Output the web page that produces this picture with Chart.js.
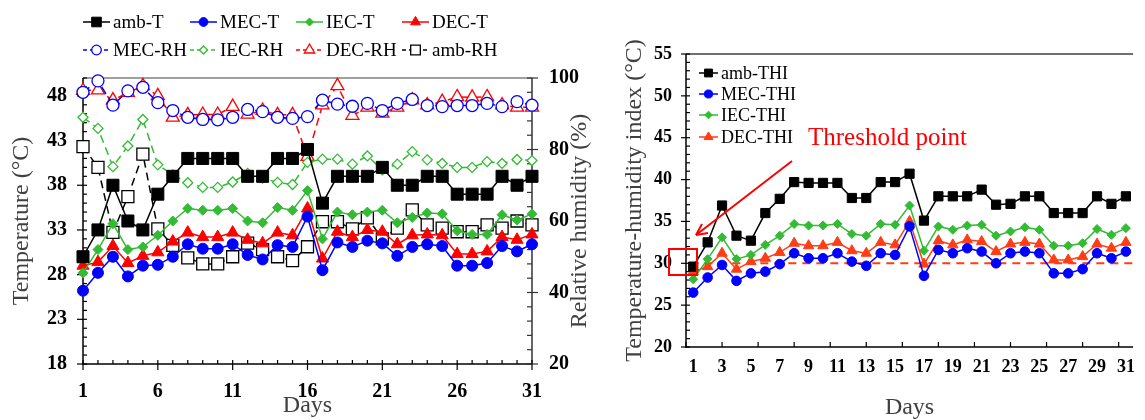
<!DOCTYPE html>
<html>
<head>
<meta charset="utf-8">
<script src="https://cdn.jsdelivr.net/npm/chart.js@4.4.1/dist/chart.umd.min.js"></script>
<style>
  html, body { margin: 0; padding: 0; background: #fff; overflow: hidden; }
  #boxLeft { position: absolute; left: 0; top: 0; }
  #boxRight { position: absolute; left: 600px; top: 0; }
</style>
</head>
<body>
<div id="boxLeft"><canvas id="tempChart" width="600" height="420"></canvas></div>
<div id="boxRight"><canvas id="thiChart" width="545" height="420"></canvas></div>
<script>
// === Data
const days = [1,2,3,4,5,6,7,8,9,10,11,12,13,14,15,16,17,18,19,20,21,22,23,24,25,26,27,28,29,30,31];

const ambT  = [30,33,38,34,33,37,39,41,41,41,41,39,39,41,41,42,36,39,39,39,40,38,38,39,39,37,37,37,39,38,39];
const mecT  = [26.2,28.2,30.0,27.8,29.0,29.1,30.0,31.4,30.9,30.9,31.4,30.2,29.7,31.3,31.1,34.5,28.5,31.6,31.1,31.8,31.5,30.1,31.1,31.4,31.2,29.0,29.0,29.3,31.2,30.6,31.4];
const iecT  = [28.2,30.8,33.7,30.8,31.1,32.4,34.0,35.4,35.2,35.2,35.4,34.0,33.8,35.5,35.2,37.4,32.0,35.0,34.7,35.0,35.2,33.8,34.4,34.9,34.8,32.9,32.5,32.5,34.7,34.1,34.8];
const decT  = [29.0,29.4,31.2,29.3,30.1,30.5,31.7,32.7,32.2,32.2,32.7,31.9,31.5,32.7,32.4,35.4,29.8,32.8,32.2,33.0,32.8,31.4,32.4,32.5,32.4,30.3,30.3,30.6,32.2,31.9,32.5];

const mecRH = [96.0,99.2,92.4,96.4,97.4,93.1,90.9,89.0,88.4,88.3,89.0,91.2,90.6,89.0,88.7,89.2,93.8,92.7,92.1,92.9,90.9,92.9,94.0,92.3,92.0,92.3,92.3,92.9,92.0,93.4,92.4];
const iecRH = [89.0,85.9,75.2,81.0,88.4,75.7,72.9,70.7,69.4,69.4,70.9,73.3,72.0,70.8,70.2,76.4,77.3,77.3,75.9,78.2,74.3,75.9,79.4,77.1,76.1,75.0,75.0,76.6,76.1,77.2,76.9];
const decRH = [96.5,96.6,93.8,95.9,97.8,95.0,89.0,89.7,89.8,89.8,92.0,89.8,90.9,89.7,89.7,78.0,92.4,97.8,89.5,91.8,90.1,91.8,93.8,92.4,93.4,94.7,94.6,94.7,92.4,91.8,91.8];
const ambRH = [80.8,75.0,56.8,66.8,78.7,57.8,53.2,49.7,48.0,48.0,50.0,53.8,52.0,50.0,48.9,52.8,59.8,59.8,57.8,60.9,55.0,58.0,63.1,58.9,58.0,57.0,57.0,58.9,58.0,60.0,58.9];

const ambTHI = [29.6,32.5,36.9,33.3,32.7,36.0,37.7,39.7,39.6,39.6,39.6,37.8,37.8,39.7,39.7,40.7,35.1,38.0,38.0,38.0,38.8,37.0,37.1,38.0,38.0,36.0,36.0,36.0,38.0,37.1,38.0];
const mecTHI = [26.5,28.3,29.8,27.9,28.8,29.0,29.9,31.2,30.6,30.6,31.2,30.2,29.7,31.2,31.0,34.4,28.5,31.6,31.2,31.8,31.4,30.0,31.2,31.4,31.2,28.8,28.8,29.3,31.2,30.6,31.4];
const iecTHI = [28.1,30.5,33.1,30.5,31.0,32.2,33.3,34.7,34.5,34.5,34.7,33.5,33.3,34.7,34.6,36.9,31.5,34.4,34.0,34.5,34.6,33.3,33.8,34.3,34.0,32.1,32.1,32.4,34.1,33.4,34.2];
const decTHI = [29.0,29.6,31.2,29.3,30.2,30.6,31.3,32.4,32.1,32.1,32.5,31.5,31.2,32.5,32.2,35.0,29.9,32.7,32.2,32.8,32.6,31.4,32.3,32.5,32.3,30.4,30.4,30.8,32.3,31.8,32.5];

const thresholdTHI = 30;
const thresholdSpan = [0.8, 31.5];

const tempTicks = [18,23,28,33,38,43,48];
const rhTicks = [20,40,60,80,100];
const dayTicksLeft = [1,6,11,16,21,26,31];
const thiTicks = [20,25,30,35,40,45,50,55];
const dayTicksRight = [1,3,5,7,9,11,13,15,17,19,21,23,25,27,29,31];

// === Helpers
const SERIF = '"Liberation Serif", "Times New Roman", serif';
const GREEN = '#33bb33';
const ORANGE = '#ff3d14';

function pts(values) {
  return values.map((v, i) => ({ x: days[i], y: v }));
}

function line(ctx, x1, y1, x2, y2, color, w) {
  ctx.beginPath();
  ctx.strokeStyle = color;
  ctx.lineWidth = w;
  ctx.moveTo(x1, y1);
  ctx.lineTo(x2, y2);
  ctx.stroke();
}

function marker(ctx, style, x, y, r, fill, stroke, lw) {
  ctx.beginPath();
  if (style === 'rect') {
    const s = r * Math.SQRT1_2;
    ctx.rect(x - s, y - s, 2 * s, 2 * s);
  } else if (style === 'circle') {
    ctx.arc(x, y, r, 0, Math.PI * 2);
  } else if (style === 'rectRot') {
    ctx.moveTo(x, y - r); ctx.lineTo(x + r, y); ctx.lineTo(x, y + r); ctx.lineTo(x - r, y); ctx.closePath();
  } else if (style === 'triangle') {
    for (let k = 0; k < 3; k++) {
      const a = k * 2 * Math.PI / 3;
      const px = x + Math.sin(a) * r, py = y - Math.cos(a) * r;
      if (k === 0) ctx.moveTo(px, py); else ctx.lineTo(px, py);
    }
    ctx.closePath();
  }
  ctx.fillStyle = fill;
  ctx.fill();
  ctx.lineWidth = lw;
  ctx.strokeStyle = stroke;
  ctx.stroke();
}

function solidSet(label, values, color, style, r) {
  return {
    label, data: pts(values), yAxisID: 'y',
    borderColor: color, backgroundColor: color, borderWidth: 1.5,
    pointStyle: style, pointRadius: r, pointHoverRadius: r,
    pointBackgroundColor: color, pointBorderColor: color, pointBorderWidth: 1,
    tension: 0, clip: false
  };
}

function openSet(label, values, color, style, r) {
  return {
    label, data: pts(values), yAxisID: 'y1',
    borderColor: color, backgroundColor: '#fff', borderWidth: 1.5, borderDash: [8, 5],
    pointStyle: style, pointRadius: r, pointHoverRadius: r,
    pointBackgroundColor: '#fff', pointBorderColor: color, pointBorderWidth: 1.3,
    tension: 0, clip: false
  };
}

function drawLegend(ctx, datasets, items, font, scale) {
  ctx.save();
  ctx.font = font;
  ctx.textBaseline = 'middle';
  ctx.textAlign = 'left';
  items.forEach(it => {
    const ds = datasets.find(d => d.label === it.label);
    ctx.setLineDash(ds.borderDash ? [4, 3] : []);
    line(ctx, it.x, it.y, it.x + it.w, it.y, ds.borderColor, 1.5);
    ctx.setLineDash([]);
    marker(ctx, ds.pointStyle, it.x + it.w / 2, it.y, ds.pointRadius * scale,
      ds.pointBackgroundColor, ds.pointBorderColor, ds.pointBorderWidth);
    ctx.fillStyle = '#000';
    ctx.fillText(it.label, it.x + it.w + 3, it.y + 1);
  });
  ctx.restore();
}

function vTitle(ctx, text, x, y, font, color) {
  ctx.save();
  ctx.translate(x, y);
  ctx.rotate(-Math.PI / 2);
  ctx.font = font;
  ctx.fillStyle = color;
  ctx.textAlign = 'center';
  ctx.textBaseline = 'middle';
  ctx.fillText(text, 0, 0);
  ctx.restore();
}

function fixedTicks(list) {
  return s => { s.ticks = list.map(v => ({ value: v })); };
}

// === Left chart: temperature + relative humidity
const leftSets = [
  solidSet('amb-T', ambT, '#000', 'rect', 8.5),
  solidSet('MEC-T', mecT, '#0000ff', 'circle', 5.5),
  solidSet('IEC-T', iecT, GREEN, 'rectRot', 5),
  solidSet('DEC-T', decT, '#ff0000', 'triangle', 7),
  openSet('MEC-RH', mecRH, '#0000ff', 'circle', 6),
  openSet('IEC-RH', iecRH, GREEN, 'rectRot', 5),
  openSet('DEC-RH', decRH, '#ff0000', 'triangle', 7.5),
  openSet('amb-RH', ambRH, '#000', 'rect', 8.5)
];

const leftDecor = {
  id: 'leftDecor',
  beforeDatasetsDraw(chart) {
    const { ctx, chartArea: a, scales } = chart;
    ctx.save();
    line(ctx, a.left, a.top, a.right, a.top, '#808080', 1.5);
    line(ctx, a.left, a.top, a.left, a.bottom + 1, '#000', 1.5);
    line(ctx, a.right, a.top, a.right, a.bottom + 1, '#333', 1.5);
    line(ctx, a.left, a.bottom, a.right, a.bottom, '#000', 1.5);
    for (let d = 1; d <= 31; d++) {
      const px = scales.x.getPixelForValue(d);
      const major = dayTicksLeft.includes(d);
      line(ctx, px, a.bottom - 4, px, a.bottom + (major ? 6 : 0), '#000', 1.2);
    }
    for (let v = 18; v <= 50; v++) {
      const py = scales.y.getPixelForValue(v);
      const major = tempTicks.includes(v);
      line(ctx, a.left - (major ? 6 : 0), py, a.left + 4, py, '#000', 1.2);
    }
    for (let v = 20; v <= 100; v += 4) {
      const py = scales.y1.getPixelForValue(v);
      const major = rhTicks.includes(v);
      line(ctx, a.right - 5, py, a.right + (major ? 6 : 0), py, '#333', 1.2);
    }
    ctx.restore();
  },
  afterDraw(chart) {
    const { ctx, chartArea: a } = chart;
    const titleFont = '24px ' + SERIF;
    vTitle(ctx, 'Temperature (°C)', 22, (a.top + a.bottom) / 2, titleFont, '#404040');
    vTitle(ctx, 'Relative humidity (%)', 580, (a.top + a.bottom) / 2, titleFont, '#404040');
    ctx.save();
    ctx.font = titleFont;
    ctx.fillStyle = '#404040';
    ctx.textAlign = 'center';
    ctx.textBaseline = 'middle';
    ctx.fillText('Days', (a.left + a.right) / 2, 406);
    ctx.restore();
    drawLegend(ctx, chart.data.datasets, [
      { label: 'amb-T', x: 83, y: 22, w: 27 },
      { label: 'MEC-T', x: 190, y: 22, w: 27 },
      { label: 'IEC-T', x: 296, y: 22, w: 27 },
      { label: 'DEC-T', x: 402, y: 22, w: 27 },
      { label: 'MEC-RH', x: 83, y: 50, w: 27 },
      { label: 'IEC-RH', x: 190, y: 50, w: 27 },
      { label: 'DEC-RH', x: 296, y: 50, w: 27 },
      { label: 'amb-RH', x: 402, y: 50, w: 27 }
    ], '19px ' + SERIF, 0.8);
  }
};

new Chart(document.getElementById('tempChart'), {
  type: 'line',
  data: { datasets: leftSets },
  options: {
    responsive: false,
    animation: false,
    events: [],
    layout: { padding: { top: 78, left: 0, right: 0, bottom: 0 } },
    plugins: { legend: { display: false }, tooltip: { enabled: false }, title: { display: false } },
    scales: {
      x: {
        type: 'linear', min: 1, max: 31,
        afterBuildTicks: fixedTicks(dayTicksLeft),
        afterFit: s => { s.height = 56; },
        grid: { display: false, drawTicks: false }, border: { display: false },
        ticks: { color: '#000', padding: 16, maxRotation: 0, autoSkip: false, font: { family: SERIF, size: 20, weight: 'bold' } }
      },
      y: {
        position: 'left', min: 18, max: 50,
        afterBuildTicks: fixedTicks(tempTicks),
        afterFit: s => { s.width = 83; },
        grid: { display: false, drawTicks: false }, border: { display: false },
        ticks: { color: '#000', padding: 16, font: { family: SERIF, size: 20, weight: 'bold' } }
      },
      y1: {
        position: 'right', min: 20, max: 100,
        afterBuildTicks: fixedTicks(rhTicks),
        afterFit: s => { s.width = 68; },
        grid: { display: false, drawTicks: false }, border: { display: false },
        ticks: { color: '#000', padding: 17, font: { family: SERIF, size: 20, weight: 'bold' } }
      }
    }
  },
  plugins: [leftDecor]
});

// === Right chart: temperature-humidity index
function thiSet(label, values, color, style, r) {
  return {
    label, data: pts(values),
    borderColor: color, backgroundColor: color, borderWidth: 1.5,
    pointStyle: style, pointRadius: r, pointHoverRadius: r,
    pointBackgroundColor: color, pointBorderColor: color, pointBorderWidth: 1,
    tension: 0, clip: false
  };
}

const rightSets = [
  thiSet('amb-THI', ambTHI, '#000', 'rect', 6.5),
  thiSet('MEC-THI', mecTHI, '#0000ff', 'circle', 4.8),
  thiSet('IEC-THI', iecTHI, GREEN, 'rectRot', 4.5),
  thiSet('DEC-THI', decTHI, ORANGE, 'triangle', 6),
  {
    label: 'threshold', data: thresholdSpan.map(x => ({ x, y: thresholdTHI })),
    borderColor: ORANGE, borderWidth: 2, borderDash: [8, 6], pointRadius: 0, clip: false
  }
];

const rightDecor = {
  id: 'rightDecor',
  beforeDatasetsDraw(chart) {
    const { ctx, chartArea: a, scales } = chart;
    ctx.save();
    line(ctx, a.left, a.top, a.right, a.top, '#404040', 1.5);
    line(ctx, a.left, a.top, a.left, a.bottom + 1, '#000', 1.5);
    line(ctx, a.left, a.bottom, a.right, a.bottom, '#000', 1.5);
    for (let v = 0.5; v <= 31.5; v += 2.5) {
      const px = scales.x.getPixelForValue(v);
      line(ctx, px, a.bottom - 5, px, a.bottom, '#000', 1.2);
    }
    for (let v = 20; v <= 55; v++) {
      const py = scales.y.getPixelForValue(v);
      const major = thiTicks.includes(v);
      line(ctx, a.left - (major ? 5 : 0), py, a.left + 4, py, '#000', 1.2);
    }
    ctx.restore();
  },
  afterDraw(chart) {
    const { ctx, chartArea: a } = chart;
    const titleFont = '24px ' + SERIF;
    vTitle(ctx, 'Temperature-humidity index (°C)', 35, (a.top + a.bottom) / 2, titleFont, '#404040');
    ctx.save();
    ctx.font = titleFont;
    ctx.fillStyle = '#404040';
    ctx.textAlign = 'center';
    ctx.textBaseline = 'middle';
    ctx.fillText('Days', (a.left + a.right) / 2, 408);
    // threshold note
    ctx.font = '25px ' + SERIF;
    ctx.fillStyle = '#ff0000';
    ctx.textAlign = 'left';
    ctx.textBaseline = 'alphabetic';
    ctx.fillText('Threshold point', 208, 145);
    line(ctx, 192, 161, 96, 235, '#ff0000', 2);
    line(ctx, 96, 235, 108, 233, '#ff0000', 2);
    line(ctx, 96, 235, 102, 224, '#ff0000', 2);
    ctx.strokeStyle = '#ff0000';
    ctx.lineWidth = 2;
    ctx.strokeRect(69, 249, 28, 26);
    ctx.restore();
    drawLegend(ctx, chart.data.datasets, [
      { label: 'amb-THI', x: 99, y: 73, w: 19 },
      { label: 'MEC-THI', x: 99, y: 94, w: 19 },
      { label: 'IEC-THI', x: 99, y: 115, w: 19 },
      { label: 'DEC-THI', x: 99, y: 137, w: 19 }
    ], '18px ' + SERIF, 0.85);
  }
};

new Chart(document.getElementById('thiChart'), {
  type: 'line',
  data: { datasets: rightSets },
  options: {
    responsive: false,
    animation: false,
    events: [],
    layout: { padding: { top: 54, left: 0, right: 0, bottom: 0 } },
    plugins: { legend: { display: false }, tooltip: { enabled: false }, title: { display: false } },
    scales: {
      x: {
        type: 'linear', min: 0.5, max: 31.5,
        afterBuildTicks: fixedTicks(dayTicksRight),
        afterFit: s => { s.height = 73; },
        grid: { display: false, drawTicks: false }, border: { display: false },
        ticks: { color: '#000', padding: 10, maxRotation: 0, autoSkip: false, font: { family: SERIF, size: 18, weight: 'bold' } }
      },
      y: {
        position: 'left', min: 20, max: 55,
        afterBuildTicks: fixedTicks(thiTicks),
        afterFit: s => { s.width = 86; },
        grid: { display: false, drawTicks: false }, border: { display: false },
        ticks: { color: '#000', padding: 14, font: { family: SERIF, size: 18, weight: 'bold' } }
      }
    }
  },
  plugins: [rightDecor]
});
</script>
</body>
</html>
